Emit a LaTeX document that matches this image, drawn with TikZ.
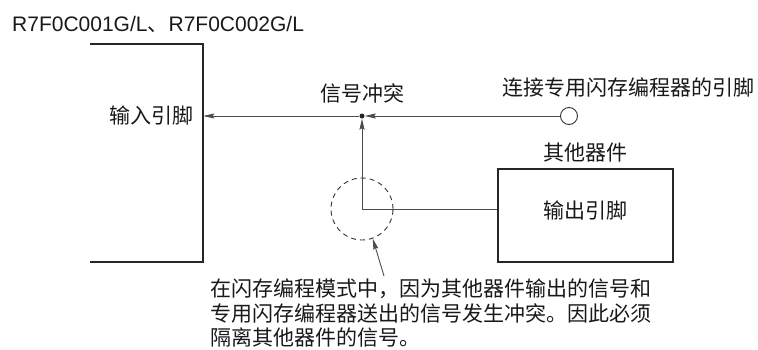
\documentclass[tikz,border=0pt]{standalone}
\usepackage{fontspec}
\setmainfont{Liberation Sans}
\newfontfamily\cjk{Noto Sans CJK SC}
\usetikzlibrary{positioning,arrows.meta}

\begin{document}
\begin{tikzpicture}[x=1pt, y=-1pt,
  every node/.style={font=\fontsize{21}{24.5}\selectfont\cjk, inner sep=0pt, text=black!90},
  pinbox/.style={draw=black!85, line width=2.5pt},
  wire/.style={draw=black!70, line width=0.9pt},
  sig/.style={wire, -{Stealth[length=11pt, width=5pt, inset=1.5pt]}}]
\useasboundingbox (0,0) rectangle (758,349);
\node[font=\fontsize{21}{24}\selectfont, anchor=base west] (title) at (12,31) {R7F0C001G/L{\cjk 、}R7F0C002G/L};
% input side, box open to the left
\node[minimum width=113pt, minimum height=218pt] (mcu) at (146.5,153) {};
\draw[pinbox] (mcu.north west) -- (mcu.north east) -- (mcu.south east) -- (mcu.south west);
\node[anchor=east] (inlabel) at (194,115) {输入引脚};
% junction and programmer pin
\node[circle, fill=black!85, minimum size=5pt] (jct) at (362,116) {};
\node (clash) at (362,93) {信号冲突};
\node[circle, draw=black!80, line width=0.9pt, fill=white, minimum size=17pt] (prog) at (569,116) {};
\node (proglabel) at (628,88) {连接专用闪存编程器的引脚};
% other device
\node[pinbox, minimum width=175pt, minimum height=93pt] (other) at (585.5,215.5) {};
\node (outlabel) at (585,210) {输出引脚};
\node[above=5pt of other] (otherlabel) {其他器件};
\coordinate (corner) at (362,209);
\node[circle, draw=black!80, line width=0.9pt, dash pattern=on 5pt off 4pt, minimum size=62pt] (zone) at (corner) {};
% note
\node[anchor=north west, align=left] (note) at (210,279) {在闪存编程模式中，因为其他器件输出的信号和\\专用闪存编程器送出的信号发生冲突。因此必须\\隔离其他器件的信号。};
\coordinate (notetip) at (384,276);

\draw[sig] (jct) -- (mcu.east |- jct);
\draw[sig] (prog) -- (jct);
\draw[sig] (corner -| other.west) -- (corner) -- (jct);
\draw[sig] (notetip) -- (zone.-70);
\end{tikzpicture}
\end{document}
